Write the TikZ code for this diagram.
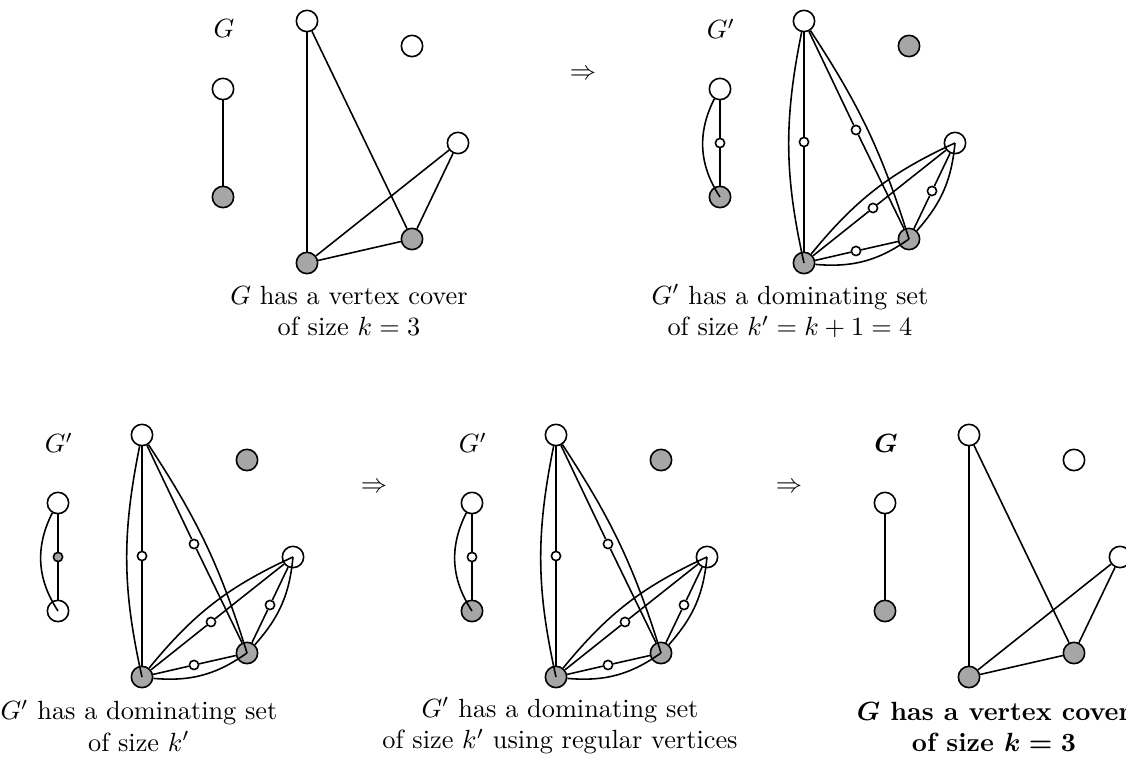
\documentclass[tikz,border=0pt]{standalone}
\usepackage{amsmath}
\usepackage{amssymb}

\begin{document}
\begin{tikzpicture}[x=0.38pt,y=-0.38pt,line width=0.6pt,
  wv/.style={circle, draw, fill=white, inner sep=0pt, minimum size=8.1pt},
  gv/.style={circle, draw, fill=black!35, inner sep=0pt, minimum size=8.1pt},
  sv/.style={circle, draw, fill=white, inner sep=0pt, minimum size=3.5pt},
  sgv/.style={circle, draw, fill=black!35, inner sep=0pt, minimum size=3.5pt},
  capt/.style={align=center, inner sep=0pt}]
\clip (0,0) rectangle (1126,768);

% G
\begin{scope}[name prefix=p1-]
  \node (label) at (224,29) {$G$};
  \node[wv] (a) at (223,89) {};
  \node[gv] (b) at (223,197) {};
  \node[wv] (c) at (307,21) {};
  \node[wv] (d) at (412,46) {};
  \node[wv] (e) at (458,143) {};
  \node[gv] (f) at (307,263) {};
  \node[gv] (g) at (412,239) {};
  \path [-] (a) edge (b);
  \path [-] (c) edge (f);
  \path [-] (c) edge (g);
  \path [-] (f) edge (g);
  \path [-] (f) edge (e);
  \path [-] (g) edge (e);
  \node[capt] (cap) at (349,311) {$G$ has a vertex cover\\of size $k=3$};
\end{scope}

\node (imp1) at (583,75) {$\Rightarrow$};

% G'
\begin{scope}[shift={(497,0)},name prefix=p2-]
  \node (label) at (224,29) {$G'$};
  \node[wv] (a) at (223,89) {};
  \node[gv] (b) at (223,197) {};
  \node[wv] (c) at (307,21) {};
  \node[gv] (d) at (412,46) {};
  \node[wv] (e) at (458,143) {};
  \node[gv] (f) at (307,263) {};
  \node[gv] (g) at (412,239) {};
  \node[sv] (ab) at (223,143) {};
  \node[sv] (cf) at (307,142) {};
  \node[sv] (cg) at (359,130) {};
  \node[sv] (fg) at (359,251) {};
  \node[sv] (fe) at (376,208) {};
  \node[sv] (ge) at (435,191) {};
  \path [-] (a) edge (ab) (ab) edge (b);
  \path [-] (c) edge (cf) (cf) edge (f);
  \path [-] (c) edge (cg) (cg) edge (g);
  \path [-] (f) edge (fg) (fg) edge (g);
  \path [-] (f) edge (fe) (fe) edge (e);
  \path [-] (g) edge (ge) (ge) edge (e);
  \path [-] (a) edge[bend right=30] (b);
  \path [-] (c) edge[bend right=12] (f);
  \path [-] (c) edge[bend left=8] (g);
  \path [-] (f) edge[bend right=20] (g);
  \path [-] (f) edge[bend left=13] (e);
  \path [-] (g) edge[bend right=18] (e);
  \node[capt] (cap) at (293,311) {$G'$ has a dominating set\\of size $k'=k+1=4$};
\end{scope}

% G' again
\begin{scope}[shift={(-165,414)},name prefix=p3-]
  \node (label) at (224,29) {$G'$};
  \node[wv] (a) at (223,89) {};
  \node[wv] (b) at (223,197) {};
  \node[wv] (c) at (307,21) {};
  \node[gv] (d) at (412,46) {};
  \node[wv] (e) at (458,143) {};
  \node[gv] (f) at (307,263) {};
  \node[gv] (g) at (412,239) {};
  \node[sgv] (ab) at (223,143) {};
  \node[sv] (cf) at (307,142) {};
  \node[sv] (cg) at (359,130) {};
  \node[sv] (fg) at (359,251) {};
  \node[sv] (fe) at (376,208) {};
  \node[sv] (ge) at (435,191) {};
  \path [-] (a) edge (ab) (ab) edge (b);
  \path [-] (c) edge (cf) (cf) edge (f);
  \path [-] (c) edge (cg) (cg) edge (g);
  \path [-] (f) edge (fg) (fg) edge (g);
  \path [-] (f) edge (fe) (fe) edge (e);
  \path [-] (g) edge (ge) (ge) edge (e);
  \path [-] (a) edge[bend right=30] (b);
  \path [-] (c) edge[bend right=12] (f);
  \path [-] (c) edge[bend left=8] (g);
  \path [-] (f) edge[bend right=20] (g);
  \path [-] (f) edge[bend left=13] (e);
  \path [-] (g) edge[bend right=18] (e);
  \node[capt] (cap) at (304,312) {$G'$ has a dominating set\\of size $k'$};
\end{scope}

\node (imp2) at (374,488) {$\Rightarrow$};

% G' with regular vertices
\begin{scope}[shift={(249,414)},name prefix=p4-]
  \node (label) at (224,29) {$G'$};
  \node[wv] (a) at (223,89) {};
  \node[gv] (b) at (223,197) {};
  \node[wv] (c) at (307,21) {};
  \node[gv] (d) at (412,46) {};
  \node[wv] (e) at (458,143) {};
  \node[gv] (f) at (307,263) {};
  \node[gv] (g) at (412,239) {};
  \node[sv] (ab) at (223,143) {};
  \node[sv] (cf) at (307,142) {};
  \node[sv] (cg) at (359,130) {};
  \node[sv] (fg) at (359,251) {};
  \node[sv] (fe) at (376,208) {};
  \node[sv] (ge) at (435,191) {};
  \path [-] (a) edge (ab) (ab) edge (b);
  \path [-] (c) edge (cf) (cf) edge (f);
  \path [-] (c) edge (cg) (cg) edge (g);
  \path [-] (f) edge (fg) (fg) edge (g);
  \path [-] (f) edge (fe) (fe) edge (e);
  \path [-] (g) edge (ge) (ge) edge (e);
  \path [-] (a) edge[bend right=30] (b);
  \path [-] (c) edge[bend right=12] (f);
  \path [-] (c) edge[bend left=8] (g);
  \path [-] (f) edge[bend right=20] (g);
  \path [-] (f) edge[bend left=13] (e);
  \path [-] (g) edge[bend right=18] (e);
  \node[capt] (cap) at (311,312) {$G'$ has a dominating set\\of size $k'$ using regular vertices};
\end{scope}

\node (imp3) at (789,488) {$\Rightarrow$};

% G again
\begin{scope}[shift={(662,414)},name prefix=p5-]
  \node (label) at (224,29) {$\boldsymbol{G}$};
  \node[wv] (a) at (223,89) {};
  \node[gv] (b) at (223,197) {};
  \node[wv] (c) at (307,21) {};
  \node[wv] (d) at (412,46) {};
  \node[wv] (e) at (458,143) {};
  \node[gv] (f) at (307,263) {};
  \node[gv] (g) at (412,239) {};
  \path [-] (a) edge (b);
  \path [-] (c) edge (f);
  \path [-] (c) edge (g);
  \path [-] (f) edge (g);
  \path [-] (f) edge (e);
  \path [-] (g) edge (e);
  \node[capt,font=\bfseries\boldmath] (cap) at (332,313) {$G$ has a vertex cover\\of size $k=3$};
\end{scope}
\end{tikzpicture}
\end{document}
